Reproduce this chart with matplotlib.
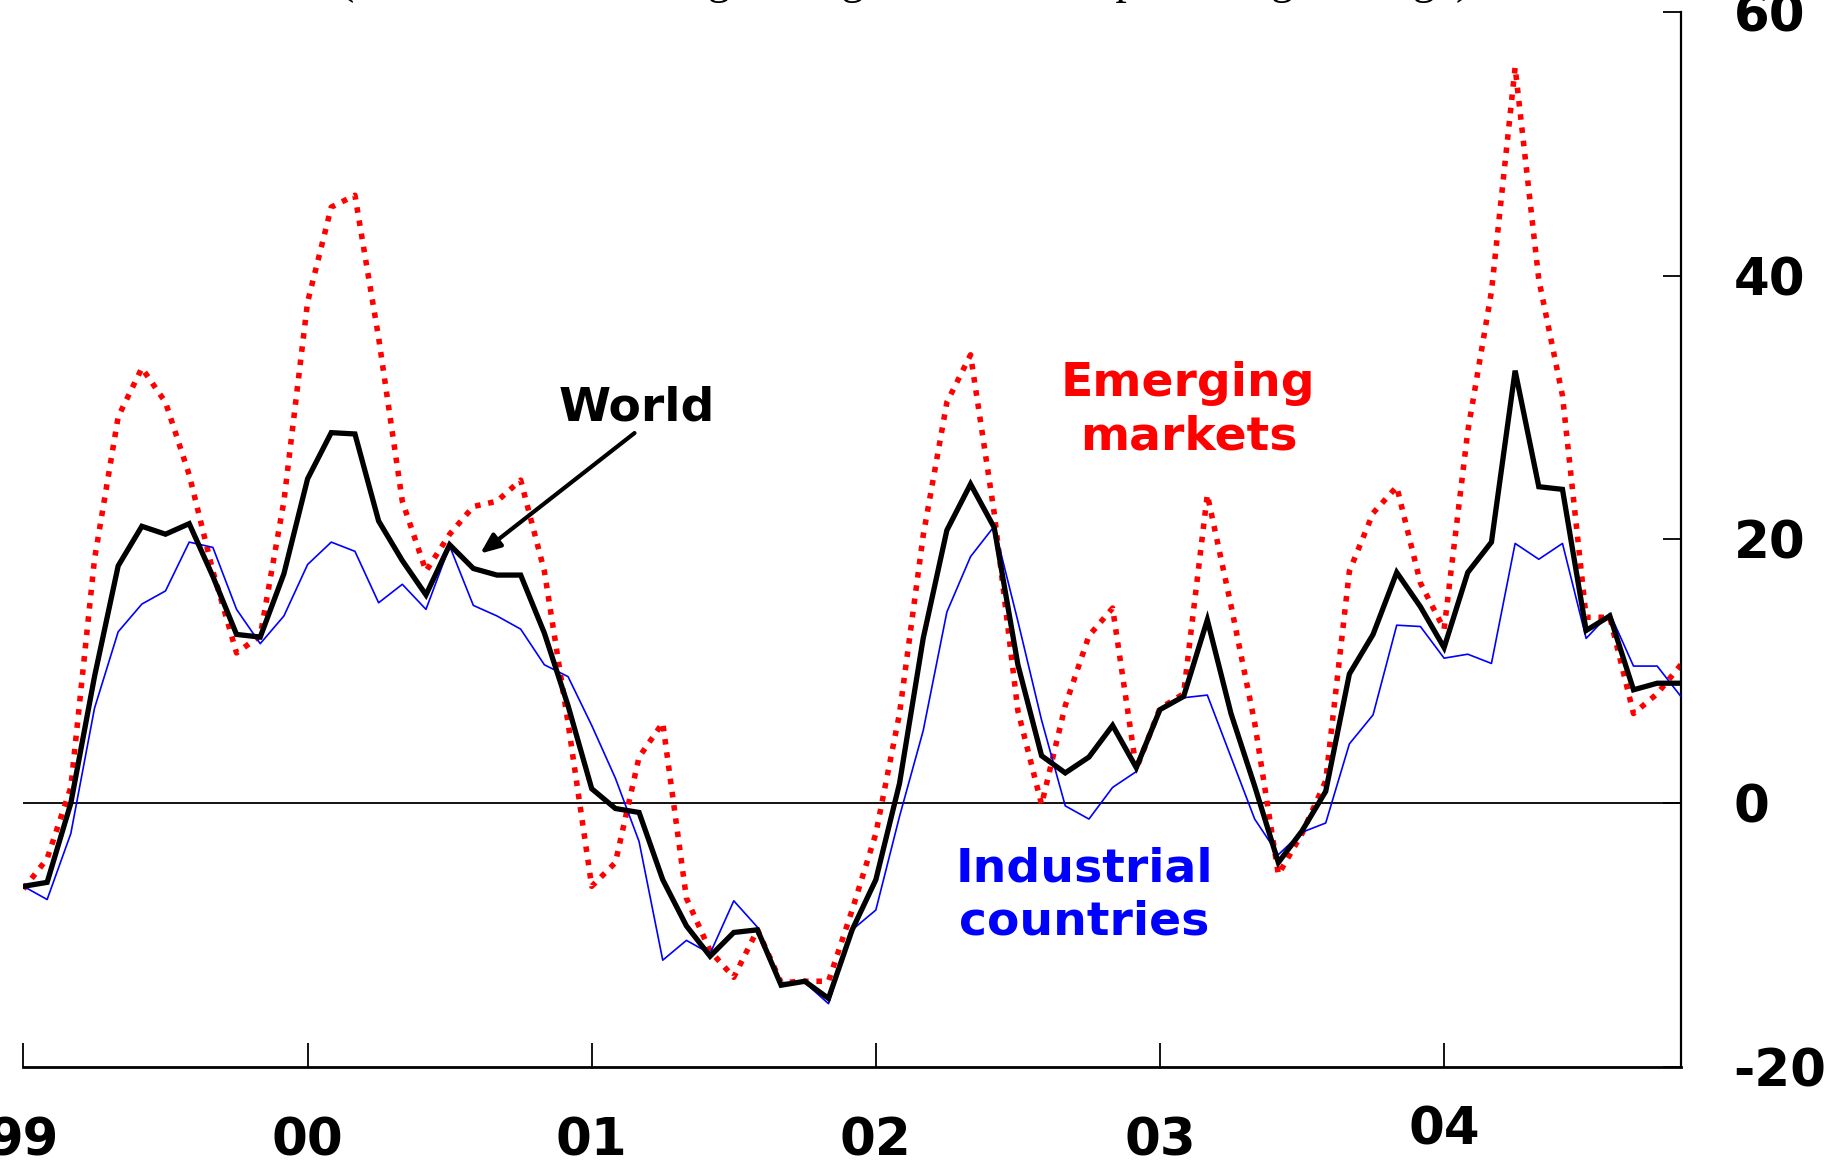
import matplotlib
matplotlib.use("Agg")
import matplotlib.pyplot as plt
import numpy as np

# monthly data, Jan 1999 .. Nov 2004 (percent)
months = np.arange(71)

world = [
    -6.3, -6.0, 0.0, 9.6, 18.0, 21.0, 20.4, 21.2, 17.2, 12.8, 12.6, 17.4,
    24.6, 28.1, 28.0, 21.4, 18.4, 15.8, 19.6, 17.8, 17.3, 17.3, 12.9, 7.4,
    1.1, -0.4, -0.7, -5.8, -9.3, -11.6, -9.8, -9.6, -13.8, -13.5, -14.8, -9.6,
    -5.8, 1.5, 12.5, 20.7, 24.2, 20.9, 10.5, 3.6, 2.3, 3.5, 5.9, 2.7,
    7.1, 8.1, 13.9, 6.8, 1.3, -4.5, -2.1, 0.9, 9.8, 12.8, 17.5, 14.9,
    11.8, 17.5, 19.8, 32.8, 24.0, 23.8, 13.1, 14.2, 8.6, 9.1, 9.1,
]

industrial = [
    -6.3, -7.3, -2.3, 7.2, 13.0, 15.1, 16.1, 19.8, 19.4, 14.7, 12.1, 14.2,
    18.1, 19.8, 19.1, 15.2, 16.6, 14.7, 19.5, 15.0, 14.2, 13.2, 10.5, 9.6,
    5.9, 1.9, -2.9, -11.9, -10.4, -11.4, -7.4, -9.4, -13.6, -13.6, -15.2, -9.6,
    -8.1, -1.0, 5.5, 14.5, 18.7, 21.0, 13.8, 6.3, -0.2, -1.2, 1.2, 2.4,
    7.0, 8.0, 8.2, 3.5, -1.2, -3.9, -2.2, -1.5, 4.5, 6.7, 13.5, 13.4,
    11.0, 11.3, 10.6, 19.7, 18.5, 19.7, 12.5, 14.4, 10.4, 10.4, 8.1,
]

emerging = [
    -6.5, -4.2, 1.2, 18.5, 29.3, 33.0, 30.4, 24.9, 17.6, 11.4, 12.7, 22.9,
    38.0, 45.2, 46.1, 35.3, 22.9, 17.6, 20.4, 22.5, 22.9, 24.5, 17.6, 6.1,
    -6.3, -4.5, 3.5, 6.1, -7.2, -11.2, -13.2, -9.6, -13.6, -13.5, -13.5, -8.1,
    -2.3, 6.8, 20.3, 30.4, 34.0, 22.0, 7.0, -0.1, 7.4, 12.7, 14.8, 2.6,
    7.2, 8.3, 23.4, 15.0, 6.1, -5.4, -2.3, 1.7, 17.6, 22.0, 24.0, 16.7,
    13.2, 28.2, 38.8, 55.8, 39.7, 30.9, 14.1, 14.1, 6.8, 8.3, 10.5,
]

year_ticks = [0, 12, 24, 36, 48, 60]
year_labels = ["99", "00", "01", "02", "03", "04"]
y_ticks = [-20, 0, 20, 40, 60]

fig = plt.figure(figsize=(18.33, 11.72), dpi=100)
ax = fig.add_axes([0.0128, 0.0896, 0.9042, 0.9002])

ax.plot(months, emerging, color="red", lw=4.0, linestyle=(0, (1.0, 1.4)), zorder=2)
ax.plot(months, industrial, color="blue", lw=1.2, zorder=3)
ax.plot(months, world, color="black", lw=3.8, zorder=4, solid_joinstyle="miter")
ax.axhline(0, color="black", lw=1.3, zorder=1)

ax.set_xlim(0, 70)
ax.set_ylim(-20, 60)

for side in ["top", "left"]:
    ax.spines[side].set_visible(False)
ax.spines["bottom"].set_linewidth(2.0)
ax.spines["right"].set_linewidth(1.6)

ax.yaxis.tick_right()
ax.set_yticks(y_ticks)
ax.set_yticklabels([str(v) for v in y_ticks])
ax.tick_params(axis="y", direction="in", length=13, width=1.3, pad=38,
               labelsize=37)
for lab in ax.get_yticklabels():
    lab.set_fontweight("bold")

ax.set_xticks(year_ticks)
ax.set_xticklabels([])
ax.tick_params(axis="x", direction="in", length=17, width=1.3)
for m, lab in zip(year_ticks, year_labels):
    ypos = -0.060 if lab == "04" else -0.071
    ax.text(m, ypos, lab, transform=ax.get_xaxis_transform(),
            ha="center", va="center", fontsize=37, fontweight="bold")

# series labels
ax.text(25.9, 30.0, "World", ha="center", va="center", fontsize=34,
        fontweight="bold", color="black")
ax.annotate("", xy=(19.2, 18.8), xytext=(25.9, 28.2),
            arrowprops=dict(arrowstyle="-|>,head_length=1.2,head_width=0.5",
                            color="black", lw=3))
ax.text(49.2, 29.8, "Emerging\nmarkets", ha="center", va="center",
        fontsize=34, fontweight="bold", color="red", linespacing=1.25)
ax.text(44.8, -7.0, "Industrial\ncountries", ha="center", va="center",
        fontsize=34, fontweight="bold", color="blue", linespacing=1.25)

# title mostly cut off by the top edge
fig.text(0.494, 1.006, "(three-month moving average, annualised percentage change)",
         ha="center", va="baseline", fontsize=33, family="Liberation Serif")

fig.savefig("out.png", dpi=100)
